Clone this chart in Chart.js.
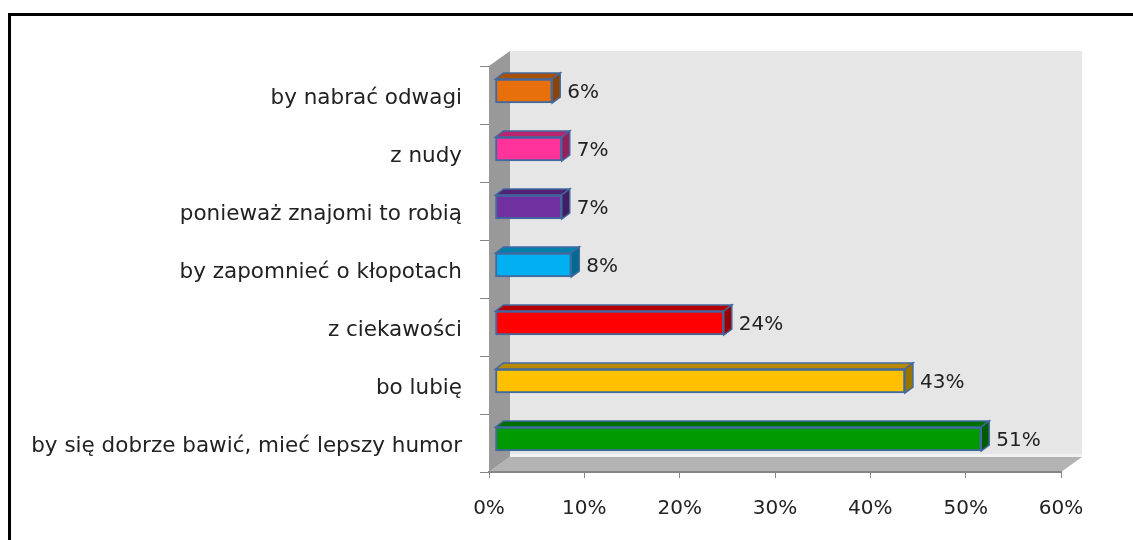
<!DOCTYPE html>
<html>
<head>
<meta charset="utf-8">
<script src="https://cdn.jsdelivr.net/npm/chart.js@4"></script>
<style>
  html, body { margin: 0; padding: 0; background: #fff; }
  canvas { display: block; }
</style>
</head>
<body>
<canvas id="reasons" width="1133" height="540"></canvas>
<script>
const reasons = [
    'by nabrać odwagi',
    'z nudy',
    'ponieważ znajomi to robią',
    'by zapomnieć o kłopotach',
    'z ciekawości',
    'bo lubię',
    'by się dobrze bawić, mieć lepszy humor'
];
const percents = [6, 7, 7, 8, 24, 43, 51];
const frontColors = ['#E8700C', '#FF3399', '#7030A0', '#00B0F0', '#FF0000', '#FFC000', '#009900'];
const xTicks = [0, 10, 20, 30, 40, 50, 60];

const FONT = '"DejaVu Sans"';
const DX = 6, DY = -4;      // bars sit a bit in front of the axis
const DEPTH_X = 8, DEPTH_Y = -6;

function shade(hex, f) {
    const n = parseInt(hex.slice(1), 16);
    const r = Math.round(((n >> 16) & 255) * f);
    const g = Math.round(((n >> 8) & 255) * f);
    const b = Math.round((n & 255) * f);
    return `rgb(${r},${g},${b})`;
}

// white page, black frame and the grey 3d box behind the bars
const walls = {
    id: 'walls',
    beforeDraw(chart) {
        const ctx = chart.ctx;
        const a = chart.chartArea;
        ctx.save();
        ctx.fillStyle = '#fff';
        ctx.fillRect(0, 0, chart.width, chart.height);

        ctx.fillStyle = '#000';
        ctx.fillRect(8, 13, chart.width - 8, 3);
        ctx.fillRect(8, 13, 3, chart.height - 13);

        const wx = 21, wy = -15;
        // back wall
        ctx.fillStyle = '#e6e6e6';
        ctx.fillRect(a.left + wx, a.top + wy, a.right - a.left, a.bottom - a.top);
        ctx.fillStyle = '#f2f2f2';
        ctx.fillRect(a.left + wx, a.bottom + wy - 3, a.right - a.left, 3);
        // left wall
        ctx.fillStyle = '#999999';
        ctx.beginPath();
        ctx.moveTo(a.left, a.top);
        ctx.lineTo(a.left + wx, a.top + wy);
        ctx.lineTo(a.left + wx, a.bottom + wy);
        ctx.lineTo(a.left, a.bottom);
        ctx.closePath();
        ctx.fill();
        // floor
        ctx.fillStyle = '#b3b3b3';
        ctx.beginPath();
        ctx.moveTo(a.left, a.bottom);
        ctx.lineTo(a.left + wx, a.bottom + wy);
        ctx.lineTo(a.right + wx, a.bottom + wy);
        ctx.lineTo(a.right, a.bottom);
        ctx.closePath();
        ctx.fill();
        ctx.restore();
    },
    beforeDatasetsDraw(chart) {
        chart.ctx.save();
        chart.ctx.translate(DX, DY);
    },
    afterDatasetsDraw(chart) {
        const ctx = chart.ctx;
        const meta = chart.getDatasetMeta(0);
        meta.data.forEach((bar, i) => {
            const top = bar.y - bar.height / 2;
            const bottom = bar.y + bar.height / 2;
            const left = bar.base, right = bar.x;
            const c = frontColors[i];
            ctx.lineWidth = 1.5;
            ctx.strokeStyle = '#4169a0';
            // top face
            ctx.fillStyle = shade(c, 0.72);
            ctx.beginPath();
            ctx.moveTo(left, top);
            ctx.lineTo(left + DEPTH_X, top + DEPTH_Y);
            ctx.lineTo(right + DEPTH_X, top + DEPTH_Y);
            ctx.lineTo(right, top);
            ctx.closePath();
            ctx.fill();
            ctx.stroke();
            // side face
            ctx.fillStyle = shade(c, 0.6);
            ctx.beginPath();
            ctx.moveTo(right, top);
            ctx.lineTo(right + DEPTH_X, top + DEPTH_Y);
            ctx.lineTo(right + DEPTH_X, bottom + DEPTH_Y);
            ctx.lineTo(right, bottom);
            ctx.closePath();
            ctx.fill();
            ctx.stroke();
            // value label
            ctx.fillStyle = '#222';
            ctx.font = `20px ${FONT}`;
            ctx.textAlign = 'left';
            ctx.textBaseline = 'middle';
            ctx.fillText(percents[i] + '%', right + DEPTH_X + 7, bar.y + 2);
        });
        ctx.restore();
    }
};

new Chart(document.getElementById('reasons'), {
    type: 'bar',
    data: {
        labels: reasons,
        datasets: [{
            data: percents,
            backgroundColor: frontColors,
            borderColor: '#4169a0',
            borderWidth: 2,
            borderSkipped: false,
            barThickness: 24
        }]
    },
    options: {
        indexAxis: 'y',
        responsive: false,
        animation: false,
        events: [],
        layout: { padding: { top: 66, right: 72, left: 0, bottom: 0 } },
        plugins: { legend: { display: false }, tooltip: { enabled: false } },
        scales: {
            x: {
                min: 0,
                max: 60,
                afterBuildTicks: s => { s.ticks = xTicks.map(v => ({ value: v })); },
                afterFit: s => { s.height = 68; },
                grid: { drawOnChartArea: false, tickLength: 6, color: '#868686' },
                border: { color: '#868686', width: 2 },
                ticks: {
                    padding: 19,
                    color: '#222',
                    font: { family: FONT, size: 20 },
                    maxRotation: 0,
                    callback: v => v + '%'
                }
            },
            y: {
                afterFit: s => { s.width = 489; },
                grid: { drawOnChartArea: false, tickLength: 9, color: '#868686', offset: true },
                border: { display: false },
                ticks: {
                    padding: 18,
                    labelOffset: 3,
                    color: '#222',
                    font: { family: FONT, size: 21.5 }
                }
            }
        }
    },
    plugins: [walls]
});
</script>
</body>
</html>
